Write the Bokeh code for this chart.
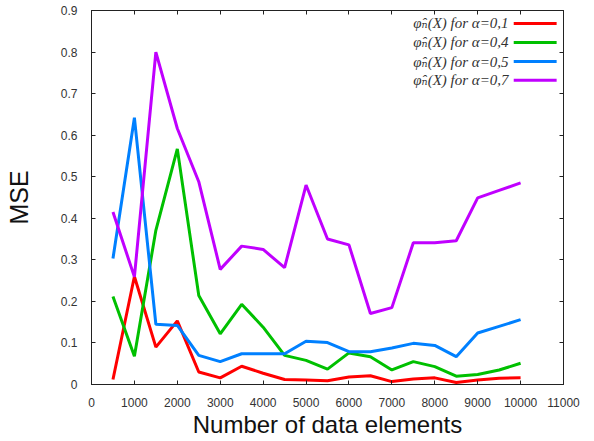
from bokeh.plotting import figure
from bokeh.models import LinearAxis, Range1d, FixedTicker, CustomJSTickFormatter, Label, BoxAnnotation
from bokeh.embed import file_html
from bokeh.resources import INLINE

# ---- data ----
n_elements = [500, 1000, 1500, 2000, 2500, 3000, 3500, 4000, 4500, 5000,
              5500, 6000, 6500, 7000, 7500, 8000, 8500, 9000, 9500, 10000]
mse_a01 = [0.012, 0.260, 0.090, 0.153, 0.030, 0.016, 0.044, 0.027, 0.012, 0.011,
           0.009, 0.018, 0.021, 0.007, 0.013, 0.016, 0.005, 0.011, 0.015, 0.016]
mse_a04 = [0.212, 0.068, 0.371, 0.567, 0.214, 0.122, 0.193, 0.138, 0.070, 0.058,
           0.037, 0.076, 0.067, 0.035, 0.055, 0.043, 0.020, 0.024, 0.035, 0.051]
mse_a05 = [0.303, 0.642, 0.145, 0.142, 0.070, 0.055, 0.074, 0.074, 0.074, 0.104,
           0.101, 0.079, 0.079, 0.088, 0.099, 0.094, 0.067, 0.124, 0.140, 0.156]
mse_a07 = [0.415, 0.259, 0.800, 0.616, 0.488, 0.277, 0.333, 0.325, 0.281, 0.480,
           0.350, 0.336, 0.171, 0.185, 0.341, 0.341, 0.346, 0.449, 0.467, 0.485]

series_labels = ["\u03c6\u0302\u2099(X) for \u03b1=0,1",
                 "\u03c6\u0302\u2099(X) for \u03b1=0,4",
                 "\u03c6\u0302\u2099(X) for \u03b1=0,5",
                 "\u03c6\u0302\u2099(X) for \u03b1=0,7"]
series_colors = ["#ff0000", "#00c000", "#0080ff", "#c000ff"]
x_ticks = list(range(0, 11001, 1000))
y_ticks = [0.0, 0.1, 0.2, 0.3, 0.4, 0.5, 0.6, 0.7, 0.8, 0.9]

p = figure(width=594, height=441, output_backend="svg", toolbar_location=None,
           x_range=Range1d(0, 11000), y_range=Range1d(0, 0.9),
           min_border_left=91, min_border_right=31, min_border_top=10, min_border_bottom=57)
p.grid.visible = False
p.outline_line_color = "#222222"
p.background_fill_color = "white"
p.border_fill_color = "white"

for ys, c in zip([mse_a01, mse_a04, mse_a05, mse_a07], series_colors):
    p.line(n_elements, ys, line_color=c, line_width=3)

fmt = CustomJSTickFormatter(code="""
  var s = tick.toFixed(1);
  if (s.endsWith('.0')) s = s.slice(0, -2);
  return s;
""")
blank = CustomJSTickFormatter(code="return '';")

for ax in [p.xaxis[0], p.yaxis[0]]:
    ax.axis_line_color = "#222222"
    ax.major_tick_in = 4
    ax.major_tick_out = 0
    ax.major_tick_line_color = "#222222"
    ax.minor_tick_line_color = None
    ax.major_label_text_font = "Liberation Sans"
    ax.major_label_text_font_size = "12px"
    ax.major_label_text_color = "#333333"
    ax.axis_label_text_font = "Liberation Sans"
    ax.axis_label_text_font_style = "normal"
    ax.axis_label_text_color = "#111111"

p.xaxis[0].ticker = FixedTicker(ticks=x_ticks)
p.yaxis[0].ticker = FixedTicker(ticks=y_ticks)
p.yaxis[0].formatter = fmt
p.xaxis[0].axis_label = "Number of data elements"
p.xaxis[0].axis_label_text_font_size = "24px"
p.xaxis[0].major_label_standoff = 13
p.xaxis[0].axis_label_standoff = 1
p.yaxis[0].axis_label = "MSE"
p.yaxis[0].axis_label_text_font_size = "25px"
p.yaxis[0].major_label_standoff = 14
p.yaxis[0].axis_label_standoff = 25

top_ax = LinearAxis(ticker=FixedTicker(ticks=x_ticks), formatter=blank,
                    major_tick_in=4, major_tick_out=0,
                    minor_tick_line_color=None, major_label_standoff=0,
                    axis_line_color="#222222", major_tick_line_color="#222222")
right_ax = LinearAxis(ticker=FixedTicker(ticks=y_ticks), formatter=blank,
                      major_tick_in=4, major_tick_out=0,
                      minor_tick_line_color=None, major_label_standoff=0,
                      axis_line_color="#222222", major_tick_line_color="#222222")
p.add_layout(top_ax, "above")
p.add_layout(right_ax, "right")

# ---- legend (text right-aligned, sample line to the right) ----
legend_rows_y = [0.869, 0.823, 0.777, 0.732]
for lab, c, ly in zip(series_labels, series_colors, legend_rows_y):
    p.add_layout(Label(x=9720, y=ly, text=lab, text_align="right", text_baseline="middle",
                       text_font="'Liberation Serif', 'DejaVu Serif', serif",
                       text_font_style="italic", text_font_size="15px",
                       text_color="#333333"))
    p.add_layout(BoxAnnotation(left=9840, right=10840, bottom=ly - 0.0036, top=ly + 0.0036,
                               fill_color=c, fill_alpha=1.0, line_color=None))

open("out.html", "w").write(file_html(p, INLINE))
